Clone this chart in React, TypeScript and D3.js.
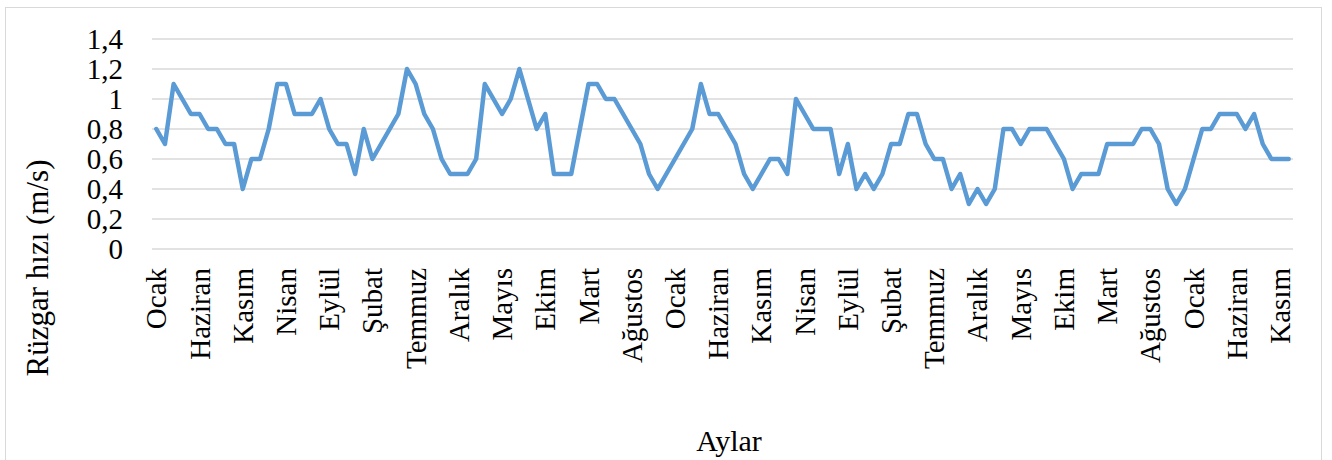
import React from "react";
import * as d3 from "d3";

const MONTHS = ["Ocak", "Şubat", "Mart", "Nisan", "Mayıs", "Haziran", "Temmuz", "Ağustos", "Eylül", "Ekim", "Kasım", "Aralık"];

const year1 = [0.8, 0.7, 1.1, 1.0, 0.9, 0.9, 0.8, 0.8, 0.7, 0.7, 0.4, 0.6];
const year2 = [0.6, 0.8, 1.1, 1.1, 0.9, 0.9, 0.9, 1.0, 0.8, 0.7, 0.7, 0.5];
const year3 = [0.8, 0.6, 0.7, 0.8, 0.9, 1.2, 1.1, 0.9, 0.8, 0.6, 0.5, 0.5];
const year4 = [0.5, 0.6, 1.1, 1.0, 0.9, 1.0, 1.2, 1.0, 0.8, 0.9, 0.5, 0.5];
const year5 = [0.5, 0.8, 1.1, 1.1, 1.0, 1.0, 0.9, 0.8, 0.7, 0.5, 0.4, 0.5];
const year6 = [0.6, 0.7, 0.8, 1.1, 0.9, 0.9, 0.8, 0.7, 0.5, 0.4, 0.5, 0.6];
const year7 = [0.6, 0.5, 1.0, 0.9, 0.8, 0.8, 0.8, 0.5, 0.7, 0.4, 0.5, 0.4];
const year8 = [0.5, 0.7, 0.7, 0.9, 0.9, 0.7, 0.6, 0.6, 0.4, 0.5, 0.3, 0.4];
const year9 = [0.3, 0.4, 0.8, 0.8, 0.7, 0.8, 0.8, 0.8, 0.7, 0.6, 0.4, 0.5];
const year10 = [0.5, 0.5, 0.7, 0.7, 0.7, 0.7, 0.8, 0.8, 0.7, 0.4, 0.3, 0.4];
const year11 = [0.6, 0.8, 0.8, 0.9, 0.9, 0.9, 0.8, 0.9, 0.7, 0.6, 0.6, 0.6];

const YEARS = [year1, year2, year3, year4, year5, year6, year7, year8, year9, year10, year11];
const Y_TICKS = [0, 0.2, 0.4, 0.6, 0.8, 1, 1.2, 1.4];
const LABEL_STEP = 5;
const Y_TITLE = "Rüzgar hızı (m/s)";
const X_TITLE = "Aylar";

const W = 1332;
const H = 460;
const FONT = "'Liberation Serif', 'Times New Roman', serif";

export default function App() {
  const data = YEARS.flatMap((vals, yi) =>
    vals.map((v, mi) => ({ key: `${yi}-${mi}`, month: MONTHS[mi], value: v }))
  );
  const plot = { left: 152, right: 1293, top: 39, bottom: 249 };

  const x = d3
    .scaleBand<string>()
    .domain(data.map((d) => d.key))
    .range([plot.left, plot.right])
    .paddingInner(0)
    .paddingOuter(0);
  const y = d3.scaleLinear().domain([0, 1.4]).range([plot.bottom, plot.top]);
  const cx = (k: string) => (x(k) as number) + x.bandwidth() / 2;

  const line = d3
    .line<(typeof data)[number]>()
    .x((d) => cx(d.key))
    .y((d) => y(d.value));

  const fmt = (v: number) => String(v).replace(".", ",");

  return (
    <svg
      width={W}
      height={H}
      style={{ position: "absolute", left: 0, top: 0, background: "#fff" }}
      fontFamily={FONT}
    >
      <rect x={5.5} y={7.5} width={1316} height={470} fill="#fff" stroke="#d9d9d9" strokeWidth={1} />
      {Y_TICKS.map((t) => (
        <g key={t}>
          <line x1={plot.left} x2={plot.right} y1={y(t)} y2={y(t)} stroke="#d9d9d9" strokeWidth={1.3} />
          <text x={123} y={y(t)} textAnchor="end" dominantBaseline="central" fontSize={29} fill="#000">
            {fmt(t)}
          </text>
        </g>
      ))}
      {data.map((d, i) =>
        i % LABEL_STEP === 0 ? (
          <text
            key={d.key}
            transform={`translate(${cx(d.key)},${268}) rotate(-90)`}
            textAnchor="end"
            dominantBaseline="central"
            fontSize={29}
            fill="#000"
          >
            {d.month}
          </text>
        ) : null
      )}
      <path
        d={line(data) || ""}
        fill="none"
        stroke="#5b9bd5"
        strokeWidth={4.5}
        strokeLinejoin="round"
        strokeLinecap="round"
      />
      <text
        transform={`translate(${37},${268}) rotate(-90)`}
        textAnchor="middle"
        dominantBaseline="central"
        fontSize={31}
        fill="#000"
      >
        {Y_TITLE}
      </text>
      <text x={729} y={440} textAnchor="middle" dominantBaseline="central" fontSize={30} fill="#000">
        {X_TITLE}
      </text>
    </svg>
  );
}
